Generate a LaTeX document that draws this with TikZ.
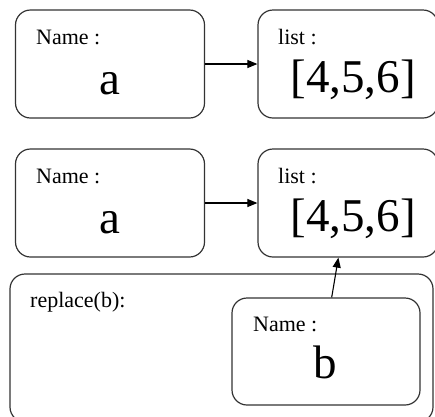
\documentclass[tikz,border=0pt]{standalone}
\usepackage{fontspec}
\setmainfont{Liberation Serif}
\usetikzlibrary{arrows.meta}

\tikzset{
  varbox/.style={draw=black!80, line width=1.2pt, rounded corners=15pt, inner sep=0pt},
  lbl/.style={font=\fontsize{22}{25}\selectfont, anchor=base west, inner sep=0pt},
  big/.style={font=\fontsize{47}{50}\selectfont, anchor=base, inner sep=0pt},
  ptr/.style={line width=1.1pt, -{Triangle[length=10pt,width=8pt]}}
}

\begin{document}
\begin{tikzpicture}[x=1pt,y=-1pt]
\useasboundingbox (0,0) rectangle (435,416);
\clip (0,0) rectangle (435,416);
% first row
\node[varbox, minimum width=189pt, minimum height=108pt] (name1) at (110,64) {};
\node[varbox, minimum width=180pt, minimum height=108pt] (list1) at (348,64) {};
\node[lbl] (nm1) at (36,44) {Name :};
\node[big] (a1) at (110,94) {a};
\node[lbl] (ls1) at (278,44) {list :};
\node[big] (v1) at (353,92) {[4,5,6]};
\draw[ptr] (name1) -- (list1);
% second row
\node[varbox, minimum width=189pt, minimum height=108pt] (name2) at (110,203) {};
\node[varbox, minimum width=180pt, minimum height=108pt] (list2) at (348,203) {};
\node[lbl] (nm2) at (36,183) {Name :};
\node[big] (a2) at (110,233) {a};
\node[lbl] (ls2) at (278,183) {list :};
\node[big] (v2) at (353,231) {[4,5,6]};
\draw[ptr] (name2) -- (list2);
% function scope
\node[varbox, minimum width=423pt, minimum height=148pt] (scope) at (221.5,348) {};
\node[lbl] (fn) at (30,307) {replace(b):};
\node[varbox, minimum width=188pt, minimum height=107pt] (nameb) at (326,351.5) {};
\node[lbl] (nmb) at (253,331) {Name :};
\node[big] (b) at (325,378) {b};
\draw[ptr] (nameb.84) -- (list2.260);
\end{tikzpicture}
\end{document}
